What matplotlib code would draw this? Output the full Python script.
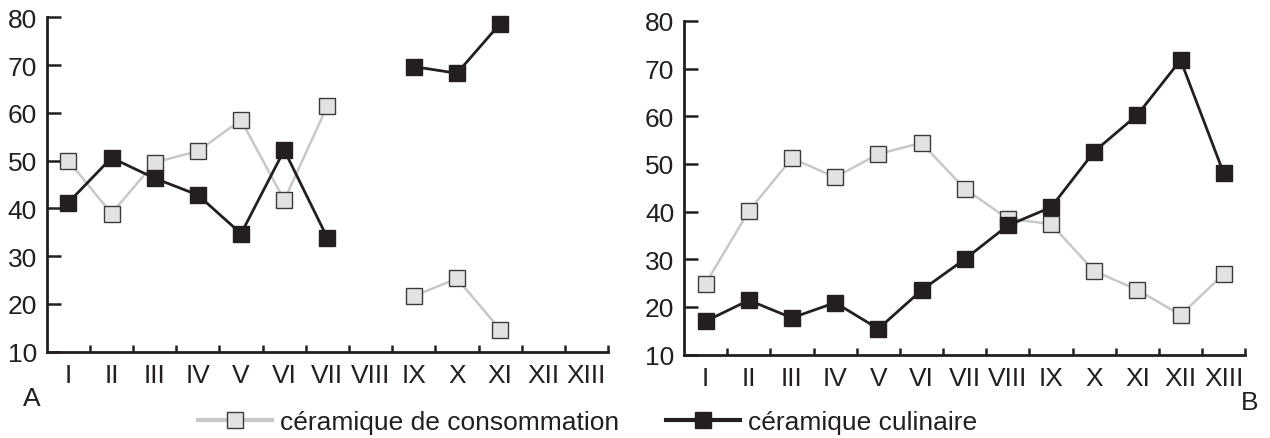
import numpy as np
import matplotlib.pyplot as plt
from matplotlib.lines import Line2D

plt.rcParams['font.family'] = ['Liberation Sans', 'DejaVu Sans']

periods = ['I', 'II', 'III', 'IV', 'V', 'VI', 'VII', 'VIII', 'IX', 'X', 'XI', 'XII', 'XIII']

# panel A (gaps = no data)
a_consommation = [50.0, 38.9, 49.6, 52.0, 58.5, 41.7, 61.5, np.nan, 21.6, 25.3, 14.6, np.nan, np.nan]
a_culinaire = [41.2, 50.6, 46.3, 42.8, 34.7, 52.2, 33.8, np.nan, 69.7, 68.3, 78.7, np.nan, np.nan]

# panel B
b_consommation = [24.9, 40.1, 51.2, 47.2, 52.1, 54.4, 44.8, 38.5, 37.4, 27.5, 23.6, 18.3, 26.9]
b_culinaire = [17.0, 21.4, 17.7, 20.9, 15.4, 23.5, 30.0, 37.1, 40.9, 52.6, 60.3, 71.8, 48.0]

light_line = '#c8c8c8'
light_fill = '#e2e2e2'
dark = '#231f20'
fs = 19


def draw_panel(ax, consommation, culinaire):
    x = np.arange(1, len(periods) + 1)
    ax.plot(x, consommation, color=light_line, lw=1.8, marker='s', ms=12,
            mfc=light_fill, mec='#3a3a3a', mew=1.0, clip_on=False, zorder=3)
    ax.plot(x, culinaire, color=dark, lw=2.0, marker='s', ms=12,
            mfc=dark, mec=dark, mew=1.0, clip_on=False, zorder=4)
    ax.set_xlim(0.5, len(periods) + 0.5)
    ax.set_ylim(10, 80)
    ax.set_yticks(np.arange(10, 81, 10))
    ax.set_xticks(x)
    ax.set_xticklabels(periods)
    ax.set_xticks(np.arange(1.5, len(periods) + 1, 1), minor=True)
    ax.tick_params(axis='x', which='major', length=0, pad=8, labelsize=fs)
    ax.tick_params(axis='x', which='minor', direction='in', length=5, width=1.8, color=dark)
    ax.tick_params(axis='y', direction='in', length=10, width=1.8, color=dark, pad=7, labelsize=fs)
    for side in ['top', 'right']:
        ax.spines[side].set_visible(False)
    for side in ['left', 'bottom']:
        ax.spines[side].set_linewidth(2.0)
        ax.spines[side].set_color(dark)
    for lab in ax.get_xticklabels() + ax.get_yticklabels():
        lab.set_color(dark)


fig = plt.figure(figsize=(12.7, 4.39), dpi=100)
ax_a = fig.add_axes([0.0368, 0.197, 0.442, 0.761])
ax_b = fig.add_axes([0.5386, 0.190, 0.442, 0.760])
draw_panel(ax_a, a_consommation, a_culinaire)
draw_panel(ax_b, b_consommation, b_culinaire)

fig.text(0.0252, 0.092, 'A', fontsize=fs, color=dark, ha='center', va='center')
fig.text(0.984, 0.082, 'B', fontsize=fs, color=dark, ha='center', va='center')

handles = [
    Line2D([], [], color=light_line, lw=3, marker='s', ms=11.5,
           mfc=light_fill, mec='#3a3a3a', mew=1.0),
    Line2D([], [], color=dark, lw=3, marker='s', ms=11.5, mfc=dark, mec=dark),
]
fig.legend(handles, ['céramique de consommation', 'céramique culinaire'],
           loc='center left', bbox_to_anchor=(198 / 1270, 0.036), ncol=2, frameon=False,
           fontsize=fs, handlelength=2.8, handletextpad=0.3, columnspacing=1.8,
           borderpad=0, borderaxespad=0, labelcolor=dark)

fig.savefig('out.png', dpi=100)
